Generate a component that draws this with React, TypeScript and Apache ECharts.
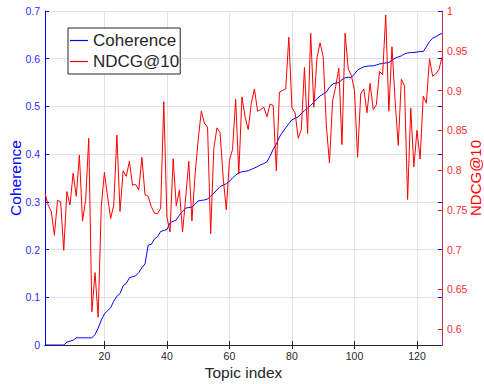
import React, { useEffect, useRef } from "react";
import * as echarts from "echarts";

const topicIndex: number[] = Array.from({ length: 128 }, (_, k) => k + 1);

const coherence: number[] = [
  0, 0, 0, 0, 0, 0, 0, 0.006, 0.008, 0.01,
  0.015, 0.015, 0.015, 0.015, 0.015, 0.015, 0.022, 0.035, 0.052, 0.065,
  0.072, 0.078, 0.092, 0.102, 0.108, 0.124, 0.129, 0.141, 0.143, 0.145,
  0.152, 0.162, 0.17, 0.209, 0.211, 0.222, 0.227, 0.238, 0.24, 0.242,
  0.256, 0.259, 0.262, 0.272, 0.28, 0.287, 0.288, 0.289, 0.295, 0.302,
  0.303, 0.304, 0.306, 0.312, 0.318, 0.325, 0.332, 0.335, 0.338, 0.343,
  0.35, 0.356, 0.361, 0.363, 0.364, 0.365, 0.368, 0.371, 0.374, 0.378,
  0.38, 0.384, 0.396, 0.41, 0.421, 0.436, 0.446, 0.455, 0.464, 0.472,
  0.475, 0.478, 0.485, 0.491, 0.497, 0.502, 0.509, 0.516, 0.522, 0.526,
  0.53, 0.54, 0.547, 0.549, 0.55, 0.556, 0.56, 0.561, 0.561, 0.568,
  0.576, 0.58, 0.583, 0.584, 0.585, 0.585, 0.587, 0.589, 0.59, 0.591,
  0.592, 0.597, 0.601, 0.604, 0.606, 0.61, 0.612, 0.613, 0.613, 0.614,
  0.615, 0.615, 0.625, 0.636, 0.643, 0.646, 0.65, 0.653,
];

const ndcg: number[] = [
  0.771, 0.756, 0.748, 0.718, 0.762, 0.76, 0.699, 0.773, 0.756, 0.796,
  0.767, 0.819, 0.736, 0.762, 0.84, 0.622, 0.671, 0.615, 0.754, 0.797,
  0.767, 0.739, 0.756, 0.844, 0.748, 0.799, 0.792, 0.811, 0.781, 0.782,
  0.775, 0.816, 0.769, 0.767, 0.754, 0.746, 0.745, 0.752, 0.886, 0.741,
  0.722, 0.814, 0.755, 0.775, 0.722, 0.765, 0.811, 0.736, 0.794, 0.838,
  0.874, 0.859, 0.854, 0.72, 0.827, 0.853, 0.847, 0.79, 0.75, 0.812,
  0.826, 0.889, 0.795, 0.892, 0.867, 0.851, 0.884, 0.902, 0.874, 0.876,
  0.879, 0.867, 0.883, 0.881, 0.799, 0.898, 0.9, 0.902, 0.967, 0.878,
  0.872, 0.84, 0.851, 0.929, 0.846, 0.972, 0.879, 0.941, 0.96, 0.942,
  0.856, 0.809, 0.887, 0.905, 0.928, 0.832, 0.972, 0.927, 0.919, 0.9,
  0.816, 0.896, 0.902, 0.872, 0.909, 0.876, 0.882, 0.924, 0.92, 0.995,
  0.874, 0.955, 0.887, 0.831, 0.914, 0.906, 0.763, 0.878, 0.804, 0.85,
  0.814, 0.893, 0.884, 0.94, 0.918, 0.921, 0.926, 0.942,
];

const xTicks: number[] = [20, 40, 60, 80, 100, 120];
const rightTicks: number[] = [0.6, 0.65, 0.7, 0.75, 0.8, 0.85, 0.9, 0.95, 1];

const FONT = "'Liberation Sans', Arial, Helvetica, sans-serif";

export default function App() {
  const ref = useRef<HTMLDivElement>(null);
  useEffect(() => {
    if (!ref.current) return;
    const chart = echarts.init(ref.current, undefined, { renderer: "svg" });
    const fmt = (v: number) => String(+Number(v).toFixed(2));
    chart.setOption({
      animation: false,
      backgroundColor: "#ffffff",
      textStyle: { fontFamily: FONT },
      grid: { left: 45, right: 42, top: 11, bottom: 39, containLabel: false, outerBoundsMode: "none" },
      legend: {
        orient: "vertical",
        left: 68,
        top: 28,
        padding: [4, 1, 4, 2],
        itemGap: 4,
        itemWidth: 18,
        itemHeight: 1.2,
        backgroundColor: "#ffffff",
        borderColor: "#262626",
        borderWidth: 1,
        borderRadius: 0,
        textStyle: { fontSize: 17, color: "#262626", fontFamily: FONT },
        data: [
          { name: "Coherence", icon: "rect" },
          { name: "NDCG@10", icon: "rect" },
        ],
      },
      xAxis: [
        {
          type: "value",
          min: 1,
          max: 128,
          position: "bottom",
          name: "Topic index",
          nameLocation: "middle",
          nameGap: 19,
          nameMoveOverlap: false,
          nameTextStyle: { fontSize: 15.5, color: "#262626", fontFamily: FONT },
          axisLine: { show: true, lineStyle: { color: "#262626", width: 1 } },
          axisTick: { show: true, inside: true, length: 4, customValues: xTicks, lineStyle: { color: "#262626" } },
          axisLabel: { customValues: xTicks, fontSize: 10.5, color: "#262626", margin: 5, fontFamily: FONT },
          splitLine: { show: true, lineStyle: { color: "#e2e2e2", width: 1 } },
        },
        {
          type: "value",
          min: 1,
          max: 128,
          position: "top",
          axisLine: { show: true, lineStyle: { color: "#262626", width: 1 } },
          axisTick: { show: true, inside: true, length: 4, customValues: xTicks, lineStyle: { color: "#262626" } },
          axisLabel: { show: false },
          splitLine: { show: false },
        },
      ],
      yAxis: [
        {
          type: "value",
          min: 0,
          max: 0.7,
          interval: 0.1,
          position: "left",
          name: "Coherence",
          nameLocation: "middle",
          nameGap: 22,
          nameRotate: 90,
          nameMoveOverlap: false,
          nameTextStyle: { fontSize: 15.5, color: "#0000ff", fontFamily: FONT },
          axisLine: { show: true, lineStyle: { color: "#0000ff", width: 1 } },
          axisTick: { show: true, inside: true, length: 4, lineStyle: { color: "#0000ff" } },
          axisLabel: { fontSize: 10.5, color: "#2b2bff", margin: 5, fontFamily: FONT, formatter: fmt },
          splitLine: { show: true, lineStyle: { color: "#dcdcff", width: 1 } },
        },
        {
          type: "value",
          min: 0.58,
          max: 1,
          position: "right",
          name: "NDCG@10",
          nameLocation: "middle",
          nameGap: 26,
          nameRotate: 90,
          nameMoveOverlap: false,
          nameTextStyle: { fontSize: 15, color: "#ff0000", fontFamily: FONT },
          axisLine: { show: true, lineStyle: { color: "#c8285a", width: 1 } },
          axisTick: { show: true, inside: true, length: 4, customValues: rightTicks, lineStyle: { color: "#ff0000" } },
          axisLabel: { customValues: rightTicks, fontSize: 10.5, color: "#ff2b2b", margin: 5, fontFamily: FONT, formatter: fmt },
          splitLine: { show: false },
        },
        {
          type: "value",
          min: 0,
          max: 0.7,
          interval: 0.1,
          position: "right",
          axisLine: { show: false },
          axisTick: { show: true, inside: true, length: 4, lineStyle: { color: "#0000ff" } },
          axisLabel: { show: false },
          splitLine: { show: false },
        },
      ],
      series: [
        {
          name: "Coherence",
          type: "line",
          xAxisIndex: 0,
          yAxisIndex: 0,
          symbol: "none",
          lineStyle: { color: "#0000ff", width: 1 },
          itemStyle: { color: "#0000ff" },
          data: topicIndex.map((x, k) => [x, coherence[k]]),
          z: 3,
        },
        {
          name: "NDCG@10",
          type: "line",
          xAxisIndex: 0,
          yAxisIndex: 1,
          symbol: "none",
          lineStyle: { color: "#ff0000", width: 1 },
          itemStyle: { color: "#ff0000" },
          data: topicIndex.map((x, k) => [x, ndcg[k]]),
          z: 4,
        },
      ],
    });
    return () => chart.dispose();
  }, []);
  return (
    <div
      ref={ref}
      style={{ position: "fixed", left: 0, top: 0, width: 484, height: 384 }}
    />
  );
}
